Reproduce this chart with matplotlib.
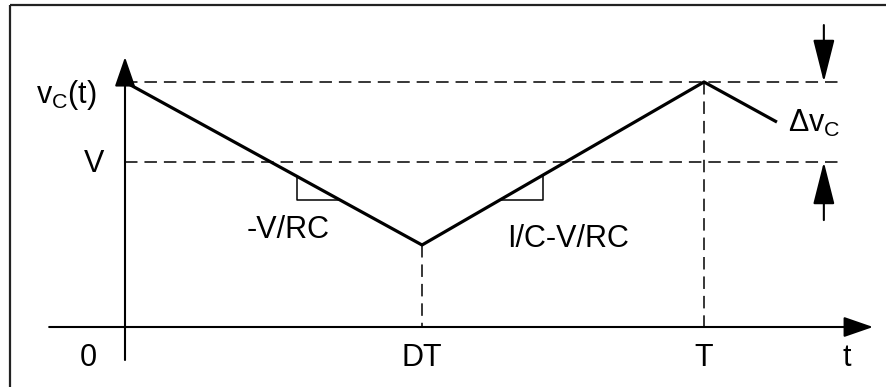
import numpy as np
import matplotlib.pyplot as plt

plt.rcParams['font.family'] = ['Liberation Sans', 'DejaVu Sans']

# -----------------------------
# Waveform (t in units of T, v in units of V)
# -----------------------------
t_pts = [0.0, 0.513, 1.0, 1.126]
v_pts = [1.485, 0.497, 1.485, 1.242]
V_level = 1.0
DT = t_pts[1]
T = t_pts[2]
v_max = v_pts[0]
v_min = v_pts[1]

tick_pos = [0.0, DT, T]
tick_txt = ["0", "DT", "T"]

# slope triangles: corner t, level v
tri_left = (0.297, 0.770)
tri_right = (0.722, 0.770)

# pixel mapping of the original drawing
sx, sy = 579.0, 165.0
ox, oy = 125.0, 327.0
W, H = 887, 387

fig = plt.figure(figsize=(W / 100, H / 100), dpi=100)
ax = fig.add_axes([0, 0, 1, 1])
ax.set_xlim(-ox / sx, (W - ox) / sx)
ax.set_ylim((oy - H) / sy, oy / sy)
ax.axis("off")

fs = 22
lw_wave = 2.3
lw_ax = 1.5
lw_dash = 1.1
dash = (9.0 / lw_dash, 5.0 / lw_dash)

# frame (only top and left visible)
ax.plot([10 / W, 1], [1 - 5 / H, 1 - 5 / H], color="#222222", lw=1.6,
        transform=ax.transAxes, solid_capstyle="butt")
ax.plot([10 / W, 10 / W], [0, 1 - 5 / H], color="#222222", lw=1.6,
        transform=ax.transAxes, solid_capstyle="butt")

# axes with arrows
arr = dict(arrowstyle="-|>,head_length=1.3,head_width=0.45", mutation_scale=14,
           color="black", lw=lw_ax, shrinkA=0, shrinkB=0)
ax.annotate("", xy=(0, 1.636), xytext=(0, -0.2), arrowprops=arr)
ax.annotate("", xy=(1.292, 0), xytext=(-0.131, 0), arrowprops=arr)

# dashed guides
t_end = 1.235
ax.plot([0, t_end], [v_max, v_max], color="black", lw=lw_dash, dashes=dash)
ax.plot([0, t_end], [V_level, V_level], color="black", lw=lw_dash, dashes=dash)
ax.plot([DT, DT], [v_min, 0], color="black", lw=lw_dash, dashes=dash)
ax.plot([T, T], [v_max, 0], color="black", lw=lw_dash, dashes=dash)

# waveform
ax.plot(t_pts, v_pts, color="black", lw=lw_wave, solid_capstyle="butt")

# slope triangles
t_arr = np.array(t_pts[:3])
v_arr = np.array(v_pts[:3])
tl, vl = tri_left
t_hit = np.interp(-vl, -v_arr[:2], t_arr[:2])
ax.plot([tl, tl, t_hit], [np.interp(tl, t_arr, v_arr), vl, vl], color="black", lw=1.1)
tr, vr = tri_right
t_hit = np.interp(vr, v_arr[1:], t_arr[1:])
ax.plot([t_hit, tr, tr], [vr, vr, np.interp(tr, t_arr, v_arr)], color="black", lw=1.1)

# ripple arrows
arr2 = dict(arrowstyle="-|>,head_length=1.9,head_width=0.48", mutation_scale=14,
            color="black", lw=lw_ax, shrinkA=0, shrinkB=0)
t_rip = 1.207
ax.annotate("", xy=(t_rip, v_max), xytext=(t_rip, 1.830), arrowprops=arr2)
ax.annotate("", xy=(t_rip, V_level), xytext=(t_rip, 0.648), arrowprops=arr2)

# labels
base = -0.236
for tp, lab in zip(tick_pos, tick_txt):
    dx = -0.064 if lab == "0" else 0
    ax.text(tp + dx, base, lab, fontsize=fs, ha="center", va="baseline")
ax.text(1.247, base, "t", fontsize=fs, ha="center", va="baseline")
ax.text(-0.036, 0.939, "V", fontsize=fs, ha="right", va="baseline")
ax.text(-0.048, 1.358, r"$\mathregular{v_C(t)}$", fontsize=fs, ha="right", va="baseline")
ax.text(0.2815, 0.539, "-V/RC", fontsize=fs, ha="center", va="baseline")
ax.text(0.765, 0.485, "I/C-V/RC", fontsize=fs, ha="center", va="baseline")
ax.text(1.145, 1.182, r"$\mathregular{\Delta v_C}$", fontsize=fs, ha="left", va="baseline")

fig.savefig("out.png", dpi=100, facecolor="white")
